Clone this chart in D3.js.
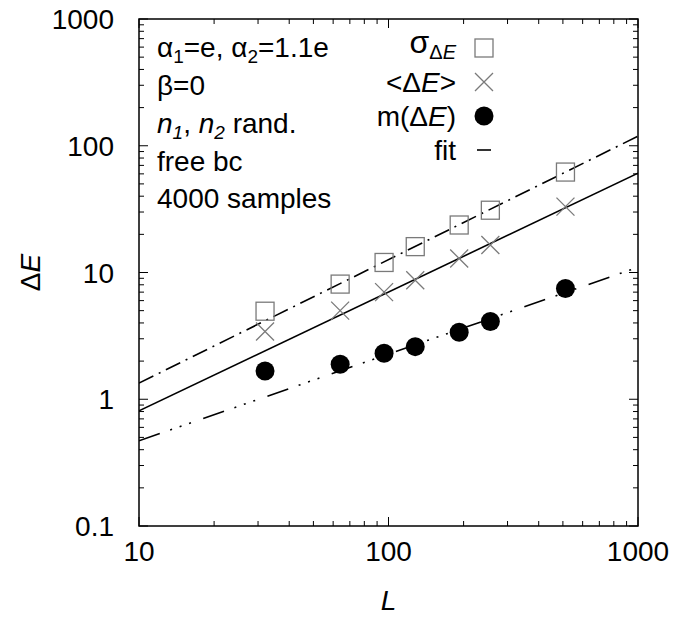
<!DOCTYPE html>
<html><head><meta charset="utf-8">
<script src="https://cdn.jsdelivr.net/npm/d3@7"></script>
<style>
html,body{margin:0;padding:0;background:#fff;}
</style></head>
<body><svg id="chart" width="677" height="621" font-family="'Liberation Sans', Arial, sans-serif"></svg>
<script>
// ---- data ----
const sizesL = [32, 64, 96, 128, 192, 256, 512];
const sigmaDE = [4.95, 8.1, 12.0, 16.0, 23.7, 31, 62];
const meanDE = [3.42, 5.0, 7.0, 8.7, 12.9, 16.5, 33.1];
const medianDE = [1.67, 1.89, 2.31, 2.6, 3.38, 4.1, 7.47];
const fitL = [10, 1000];
const fitSigma = [1.34, 119];
const fitMean = [0.81, 60.7];
const fitMedian = [0.47, 11.0];
const xTicks = [10, 100, 1000];
const yTicks = [0.1, 1, 10, 100, 1000];

const svg = d3.select("#chart");
const M = {left:139, right:638, top:19, bottom:526};
const x = d3.scaleLog().domain([10,1000]).range([M.left, M.right]);
const y = d3.scaleLog().domain([0.1,1000]).range([M.bottom, M.top]);

svg.append("rect").attr("width",677).attr("height",621).attr("fill","#fff");

const defs = svg.append("defs");
defs.append("clipPath").attr("id","clip").append("rect")
  .attr("x",M.left).attr("y",M.top).attr("width",M.right-M.left).attr("height",M.bottom-M.top);

function minorTicks(lo, hi){
  const out=[];
  for(let d=lo; d<hi; d*=10){ for(let k=2;k<=9;k++) out.push(+(d*k).toPrecision(3)); }
  return out;
}
const tk = svg.append("g").attr("stroke","#000").attr("stroke-width",1);
const xMinor = minorTicks(10,1000), yMinor = minorTicks(0.1,1000);
xMinor.forEach(v=>{
  tk.append("line").attr("x1",x(v)).attr("x2",x(v)).attr("y1",M.bottom).attr("y2",M.bottom-5);
  tk.append("line").attr("x1",x(v)).attr("x2",x(v)).attr("y1",M.top).attr("y2",M.top+5);
});
xTicks.forEach(v=>{
  tk.append("line").attr("x1",x(v)).attr("x2",x(v)).attr("y1",M.bottom).attr("y2",M.bottom-9);
  tk.append("line").attr("x1",x(v)).attr("x2",x(v)).attr("y1",M.top).attr("y2",M.top+9);
});
yMinor.forEach(v=>{
  tk.append("line").attr("y1",y(v)).attr("y2",y(v)).attr("x1",M.left).attr("x2",M.left+5);
  tk.append("line").attr("y1",y(v)).attr("y2",y(v)).attr("x1",M.right).attr("x2",M.right-5);
});
yTicks.forEach(v=>{
  tk.append("line").attr("y1",y(v)).attr("y2",y(v)).attr("x1",M.left).attr("x2",M.left+9);
  tk.append("line").attr("y1",y(v)).attr("y2",y(v)).attr("x1",M.right).attr("x2",M.right-9);
});

const FS = 28;
const fmt = v => (v<1? String(v) : d3.format("d")(v));
svg.append("g").selectAll("text").data(xTicks).join("text")
  .attr("x",d=>x(d)).attr("y",561).attr("text-anchor","middle")
  .attr("font-size",FS).text(fmt);
svg.append("g").selectAll("text").data(yTicks).join("text")
  .attr("x",114).attr("y",d=>y(d)+10).attr("text-anchor","end")
  .attr("font-size",FS).text(fmt);

svg.append("text").attr("x",(M.left+M.right)/2).attr("y",610)
  .attr("text-anchor","middle").attr("font-size",FS).attr("font-style","italic").text("L");
const yl = svg.append("text").attr("transform",`translate(40,${(M.top+M.bottom)/2}) rotate(-90)`)
  .attr("text-anchor","middle").attr("font-size",FS);
yl.append("tspan").text("Δ");
yl.append("tspan").attr("font-style","italic").text("E");

const line = d3.line().x(d=>x(d[0])).y(d=>y(d[1]));
const plot = svg.append("g").attr("clip-path","url(#clip)");
plot.append("path").datum(fitL.map((l,i)=>[l,fitSigma[i]])).attr("d",line)
  .attr("fill","none").attr("stroke","#000").attr("stroke-width",1.6).attr("stroke-dasharray","16,6,2,6");
plot.append("path").datum(fitL.map((l,i)=>[l,fitMean[i]])).attr("d",line)
  .attr("fill","none").attr("stroke","#000").attr("stroke-width",1.6);
plot.append("path").datum(fitL.map((l,i)=>[l,fitMedian[i]])).attr("d",line)
  .attr("fill","none").attr("stroke","#000").attr("stroke-width",1.6).attr("stroke-dasharray","22,11,2,8,2,8,2,13");

const ms = 9;
const grey = "#7a7a7a";
plot.append("g").selectAll("rect").data(sizesL).join("rect")
  .attr("x",(d)=>x(d)-ms).attr("y",(d,i)=>y(sigmaDE[i])-ms).attr("width",2*ms).attr("height",2*ms)
  .attr("fill","none").attr("stroke",grey).attr("stroke-width",1.3);
plot.append("g").selectAll("path").data(sizesL).join("path")
  .attr("d",(d,i)=>{const cx=x(d), cy=y(meanDE[i]); return `M${cx-ms},${cy-ms}L${cx+ms},${cy+ms}M${cx-ms},${cy+ms}L${cx+ms},${cy-ms}`;})
  .attr("stroke",grey).attr("stroke-width",1.3).attr("fill","none");
plot.append("g").selectAll("circle").data(sizesL).join("circle")
  .attr("cx",d=>x(d)).attr("cy",(d,i)=>y(medianDE[i])).attr("r",9.5).attr("fill","#000");

svg.append("rect").attr("x",M.left).attr("y",M.top).attr("width",M.right-M.left).attr("height",M.bottom-M.top)
  .attr("fill","none").attr("stroke","#000").attr("stroke-width",1.5);

const ann = svg.append("g").attr("font-size",FS);
const lx = 157;
const SUB = 19, SD = 6;
let t = ann.append("text").attr("x",lx).attr("y",57);
t.append("tspan").text("α");
t.append("tspan").attr("font-size",SUB).attr("dy",SD).text("1");
t.append("tspan").attr("dy",-SD).text("=e, α");
t.append("tspan").attr("font-size",SUB).attr("dy",SD).text("2");
t.append("tspan").attr("dy",-SD).text("=1.1e");
ann.append("text").attr("x",lx).attr("y",95).text("β=0");
t = ann.append("text").attr("x",lx).attr("y",133);
t.append("tspan").attr("font-style","italic").text("n");
t.append("tspan").attr("font-style","italic").attr("font-size",SUB).attr("dy",SD).text("1");
t.append("tspan").attr("dy",-SD).text(", ");
t.append("tspan").attr("font-style","italic").text("n");
t.append("tspan").attr("font-style","italic").attr("font-size",SUB).attr("dy",SD).text("2");
t.append("tspan").attr("dy",-SD).text(" rand.");
ann.append("text").attr("x",lx).attr("y",171).text("free bc");
ann.append("text").attr("x",lx).attr("y",208).text("4000 samples");

const lg = svg.append("g").attr("font-size",FS);
const tx = 456, mx = 484;
const rows = [48, 82, 116, 150];
t = lg.append("text").attr("x",tx).attr("y",rows[0]+5).attr("text-anchor","end");
t.append("tspan").attr("font-size",32).text("σ");
t.append("tspan").attr("font-size",20).attr("dy",6).text("Δ");
t.append("tspan").attr("font-size",20).attr("font-style","italic").text("E");
t = lg.append("text").attr("x",tx).attr("y",rows[1]+10).attr("text-anchor","end");
t.append("tspan").text("<Δ");
t.append("tspan").attr("font-style","italic").text("E");
t.append("tspan").text(">");
t = lg.append("text").attr("x",tx).attr("y",rows[2]+10).attr("text-anchor","end");
t.append("tspan").text("m(Δ");
t.append("tspan").attr("font-style","italic").text("E");
t.append("tspan").text(")");
lg.append("text").attr("x",tx).attr("y",rows[3]+10).attr("text-anchor","end").text("fit");
lg.append("rect").attr("x",mx-ms).attr("y",rows[0]-ms).attr("width",2*ms).attr("height",2*ms)
  .attr("fill","none").attr("stroke",grey).attr("stroke-width",1.3);
lg.append("path").attr("d",`M${mx-ms},${rows[1]-ms}L${mx+ms},${rows[1]+ms}M${mx-ms},${rows[1]+ms}L${mx+ms},${rows[1]-ms}`)
  .attr("stroke",grey).attr("stroke-width",1.3);
lg.append("circle").attr("cx",mx).attr("cy",rows[2]).attr("r",9.5).attr("fill","#000");
lg.append("line").attr("x1",mx-7).attr("x2",mx+7).attr("y1",rows[3]).attr("y2",rows[3])
  .attr("stroke","#000").attr("stroke-width",1.6);
</script></body></html>
